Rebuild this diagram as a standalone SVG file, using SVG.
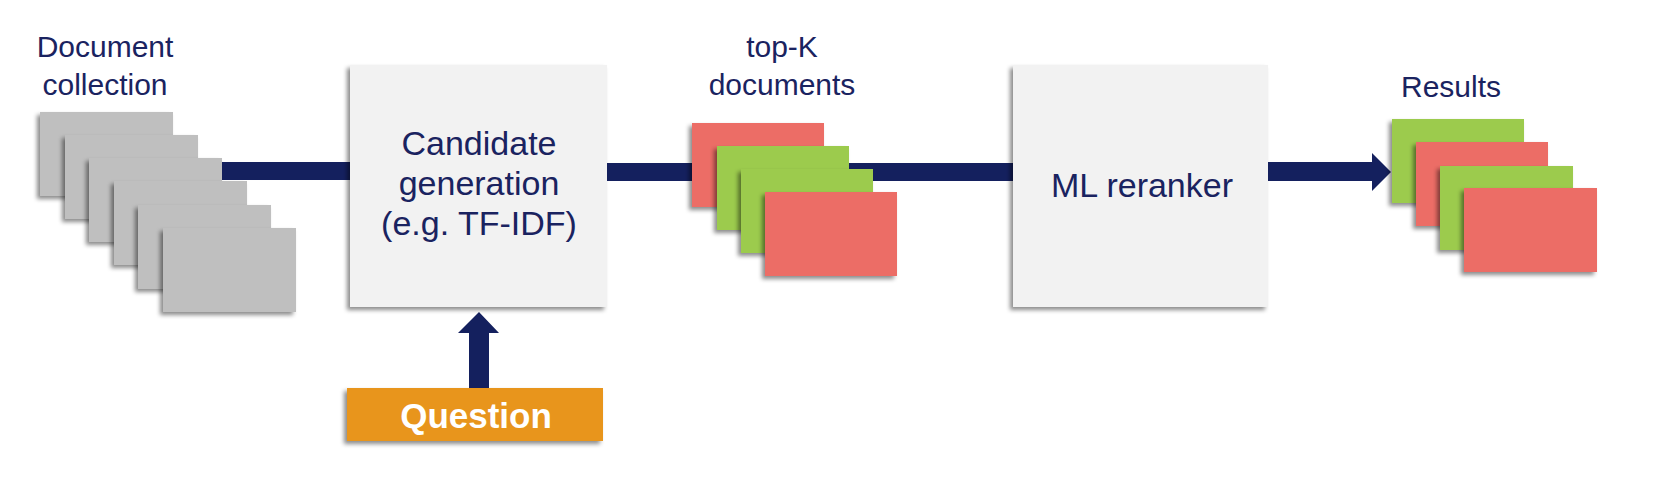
<svg xmlns="http://www.w3.org/2000/svg" width="1670" height="480" viewBox="0 0 1670 480">
<style>
  .lbl { font-family: "Liberation Sans", Arial, sans-serif; font-size: 30px; fill: #1a2360; text-anchor: middle; }
  .box-lbl { font-family: "Liberation Sans", Arial, sans-serif; font-size: 34px; fill: #1a2360; text-anchor: middle; }
  .q-lbl { font-family: "Liberation Sans", Arial, sans-serif; font-size: 35px; font-weight: bold; fill: #ffffff; text-anchor: middle; }
  .page { fill: #bfbfbf; filter: url(#sh); }
  .red { fill: #ec6d66; filter: url(#sh); }
  .green { fill: #9ccb4e; filter: url(#sh); }
  .box { fill: #f2f2f2; filter: url(#sh); }
  .conn { fill: #14205e; }
</style>
<defs>
  <filter id="sh" x="-20%" y="-20%" width="140%" height="140%">
    <feDropShadow dx="-3" dy="3" stdDeviation="2" flood-color="#000" flood-opacity="0.45"/>
  </filter>
</defs>
<rect width="1670" height="480" fill="#ffffff"/>

<g id="connectors">
  <rect class="conn" x="215" y="162" width="137" height="18"/>
  <rect class="conn" x="605" y="163" width="410" height="18"/>
  <polygon class="conn" points="1268,162 1372,162 1372,153 1391,172 1372,191 1372,181 1268,181"/>
  <polygon class="conn" points="469,388 469,333 458,333 479,312 499,333 489,333 489,388"/>
</g>

<g id="doc-collection">
  <rect class="page" x="40" y="112" width="133" height="84"/>
  <rect class="page" x="65" y="135" width="133" height="84"/>
  <rect class="page" x="89" y="158" width="133" height="84"/>
  <rect class="page" x="114" y="181" width="133" height="84"/>
  <rect class="page" x="138" y="205" width="133" height="84"/>
  <rect class="page" x="163" y="228" width="133" height="84"/>
  <text class="lbl" x="105" y="57">Document</text>
  <text class="lbl" x="105" y="95">collection</text>
</g>

<g id="candidate-generation">
  <rect class="box" x="350" y="65" width="257" height="242"/>
  <text class="box-lbl" x="479" y="155">Candidate</text>
  <text class="box-lbl" x="479" y="195">generation</text>
  <text class="box-lbl" x="479" y="235">(e.g. TF-IDF)</text>
</g>

<g id="question">
  <rect x="347" y="388" width="256" height="53" fill="#e8951f" filter="url(#sh)"/>
  <text class="q-lbl" x="476" y="428">Question</text>
</g>

<g id="top-k">
  <rect class="red" x="692" y="123" width="132" height="84"/>
  <rect class="green" x="717" y="146" width="132" height="84"/>
  <rect class="green" x="741" y="169" width="132" height="84"/>
  <rect class="red" x="765" y="192" width="132" height="84"/>
  <text class="lbl" x="782" y="57">top-K</text>
  <text class="lbl" x="782" y="95">documents</text>
</g>

<g id="ml-reranker">
  <rect class="box" x="1013" y="65" width="255" height="242"/>
  <text class="box-lbl" x="1142" y="197">ML reranker</text>
</g>

<g id="results">
  <rect class="green" x="1392" y="119" width="132" height="84"/>
  <rect class="red" x="1416" y="142" width="132" height="84"/>
  <rect class="green" x="1440" y="166" width="133" height="84"/>
  <rect class="red" x="1464" y="188" width="133" height="84"/>
  <text class="lbl" x="1451" y="97">Results</text>
</g>
</svg>
